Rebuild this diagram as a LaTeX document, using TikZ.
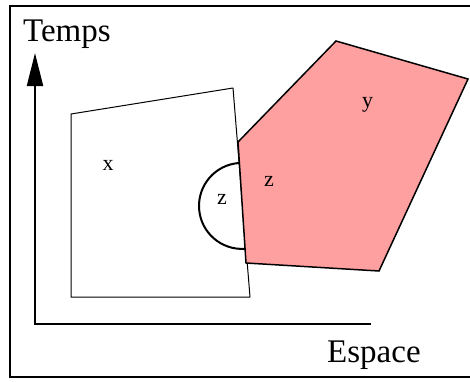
\documentclass[tikz,border=0pt]{standalone}
\usepackage{fontspec}
\setmainfont{Liberation Serif}
\usetikzlibrary{arrows.meta}
\definecolor{zonepink}{RGB}{255,160,160}

\begin{document}
\begin{tikzpicture}[x=1pt,y=1pt,>={Triangle[length=33pt,width=16pt]},
  biglabel/.style={inner sep=0pt,anchor=base west,font=\fontsize{33}{40}\selectfont},
  smalllabel/.style={inner sep=0pt,anchor=base,font=\fontsize{22}{26}\selectfont}]
 \useasboundingbox (0,0) rectangle (470,381);
 % frame, open on the right
 \draw[line width=2pt] (472,374.5) -- (10,374.5) -- (10,4) -- (472,4);
 % axes
 \draw[line width=2pt,->] (35,57) -- (35,328);
 \draw[line width=2pt] (34,57) -- (371,57);
 \node[biglabel] (temps) at (23,339) {Temps};
 \node[biglabel] (espace) at (327,19) {Espace};
 % region x
 \draw[line width=1pt,line join=round] (71,267) -- (233,293) -- (250,84) -- (71,84) -- cycle;
 % region y
 \draw[line width=1.5pt,fill=zonepink] (238,239) -- (336,340) -- (468,302) -- (379,110) -- (246,118) -- cycle;
 % region z
 \draw[line width=2pt] (239,218) arc[start angle=94,end angle=274,radius=43pt];
 \node[smalllabel] (lx) at (108,211) {x};
 \node[smalllabel] (ly) at (367.5,274) {y};
 \node[smalllabel] (lzleft) at (222,177) {z};
 \node[smalllabel] (lzright) at (269,195) {z};
\end{tikzpicture}
\end{document}
